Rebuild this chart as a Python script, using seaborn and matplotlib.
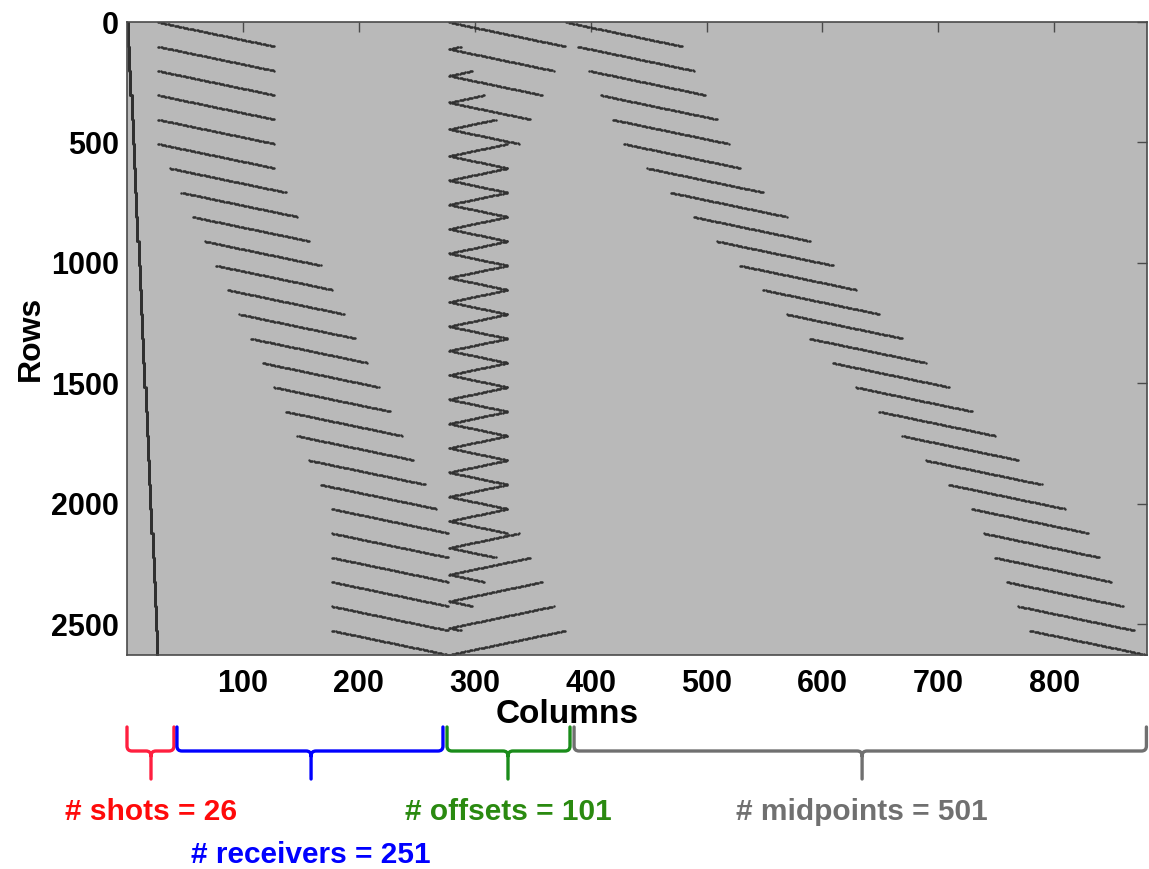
import numpy as np
import pandas as pd
import matplotlib
matplotlib.use("Agg")
import matplotlib.pyplot as plt
import matplotlib.transforms as mtransforms
from matplotlib.path import Path
from matplotlib.patches import PathPatch
import seaborn as sns

# ---------------- data ----------------
n_shots = 26
n_receivers = 251
n_offsets = 101
n_midpoints = 501
traces_per_shot = 101
# receiver index of each shot position
shot_position = [0, 10, 20, 30, 40, 50, 60, 70, 80, 90, 100, 110, 120,
                 130, 140, 150, 160, 170, 180, 190, 200, 210, 220, 230, 240, 250]
# first active receiver of every shot (101 receivers per shot)
first_receiver = [0, 0, 0, 0, 0, 0, 10, 20, 30, 40, 50, 60, 70,
                  80, 90, 100, 110, 120, 130, 140, 150, 150, 150, 150, 150, 150]
group_names = ["shots", "receivers", "offsets", "midpoints"]
group_sizes = [n_shots, n_receivers, n_offsets, n_midpoints]
group_labels = ["# shots = 26", "# receivers = 251", "# offsets = 101", "# midpoints = 501"]

# ---------------- build the sparsity pattern ----------------
col_offset = np.concatenate([[0], np.cumsum(group_sizes)[:-1]])
rows, cols, grp = [], [], []
row = 0
for s in range(n_shots):
    for k in range(traces_per_shot):
        row += 1
        r = first_receiver[s] + k
        off = abs(r - shot_position[s])
        mid = shot_position[s] + r
        for g, idx in zip(range(4), [s, r, off, mid]):
            rows.append(row)
            cols.append(col_offset[g] + idx + 1)
            grp.append(group_names[g])
df = pd.DataFrame({"row": rows, "col": cols, "group": grp})
n_rows = row
n_cols = int(sum(group_sizes))

# ---------------- figure ----------------
sns.set_style("white")
plt.rcParams["font.family"] = ["Liberation Sans", "DejaVu Sans"]
plt.rcParams["font.weight"] = "bold"
plt.rcParams["text.color"] = "black"
plt.rcParams["axes.labelcolor"] = "black"
plt.rcParams["xtick.color"] = "black"
plt.rcParams["ytick.color"] = "black"

W, H = 1149, 869
fig = plt.figure(figsize=(W / 100, H / 100), dpi=100)
ax = fig.add_axes([127 / W, (H - 655) / H, 1020 / W, 633 / H])
ax.set_facecolor("#b9b9b9")

sns.scatterplot(data=df, x="col", y="row", color="#303030", s=3.0,
                marker="o", linewidth=0, legend=False, ax=ax)

ax.set_xlim(0, n_cols + 1)
ax.set_ylim(n_rows + 1, 0)
ax.set_xticks([100, 200, 300, 400, 500, 600, 700, 800])
ax.set_yticks([0, 500, 1000, 1500, 2000, 2500])
ax.tick_params(direction="in", top=True, right=True, length=7, width=1,
               color="#4a4a4a", labelcolor="black", labelsize=22)
ax.tick_params(axis="x", pad=10)
ax.tick_params(axis="y", pad=6)
for lab in ax.get_xticklabels() + ax.get_yticklabels():
    lab.set_fontweight("bold")
for sp in ax.spines.values():
    sp.set_color("#4a4a4a")
    sp.set_linewidth(1.2)

ax.set_xlabel("Columns", fontsize=24, fontweight="bold", color="black")
ax.set_ylabel("Rows", fontsize=23, fontweight="bold", color="black")
ax.xaxis.set_label_coords((567 - 127) / 1020, -(699 - 655) / 633)
ax.yaxis.set_label_coords(-(127 - 46) / 1020, 0.5)

# ---------------- braces under the column groups ----------------
trans = mtransforms.blended_transform_factory(ax.transData, fig.transFigure)
px_per_col = 1020 / (n_cols + 1)
top_y, bar_y, tip_y = 1 - 727 / H, 1 - 751 / H, 1 - 779 / H
rx, ry = 5 / px_per_col, 5 / H

brace_spans = [(0.0, 40.5, 20.7), (43.1, 272.6, 158.8),
               (276.1, 382.2, 328.7), (385.7, 879.5, 634.2)]
brace_colors = ["#ff1f3f", "#0000ff", "#1a8c1a", "#707070"]
text_colors = ["#ff0a0a", "#0000ff", "#2a8a10", "#707070"]
text_y = [1 - 812 / H, 1 - 855 / H, 1 - 812 / H, 1 - 812 / H]

for (x0, x1, xm), bc, tc, lab, ty in zip(brace_spans, brace_colors, text_colors,
                                          group_labels, text_y):
    verts = [(x0, top_y), (x0, bar_y + ry), (x0, bar_y), (x0 + rx, bar_y),
             (xm - rx, bar_y), (xm, bar_y), (xm, bar_y - ry), (xm, tip_y),
             (x1, top_y), (x1, bar_y + ry), (x1, bar_y), (x1 - rx, bar_y),
             (xm + rx, bar_y), (xm, bar_y), (xm, bar_y - ry)]
    codes = [Path.MOVETO, Path.LINETO, Path.CURVE3, Path.CURVE3,
             Path.LINETO, Path.CURVE3, Path.CURVE3, Path.LINETO,
             Path.MOVETO, Path.LINETO, Path.CURVE3, Path.CURVE3,
             Path.LINETO, Path.CURVE3, Path.CURVE3]
    patch = PathPatch(Path(verts, codes), fill=False, edgecolor=bc, lw=2.4,
                      transform=trans, clip_on=False, capstyle="round",
                      joinstyle="round")
    fig.add_artist(patch)
    fig.text(0, 0, lab, color=tc, fontsize=21.5, fontweight="bold",
             ha="center", va="center", transform=trans).set_position((xm, ty))

fig.savefig("out.png", dpi=100, facecolor="white")
